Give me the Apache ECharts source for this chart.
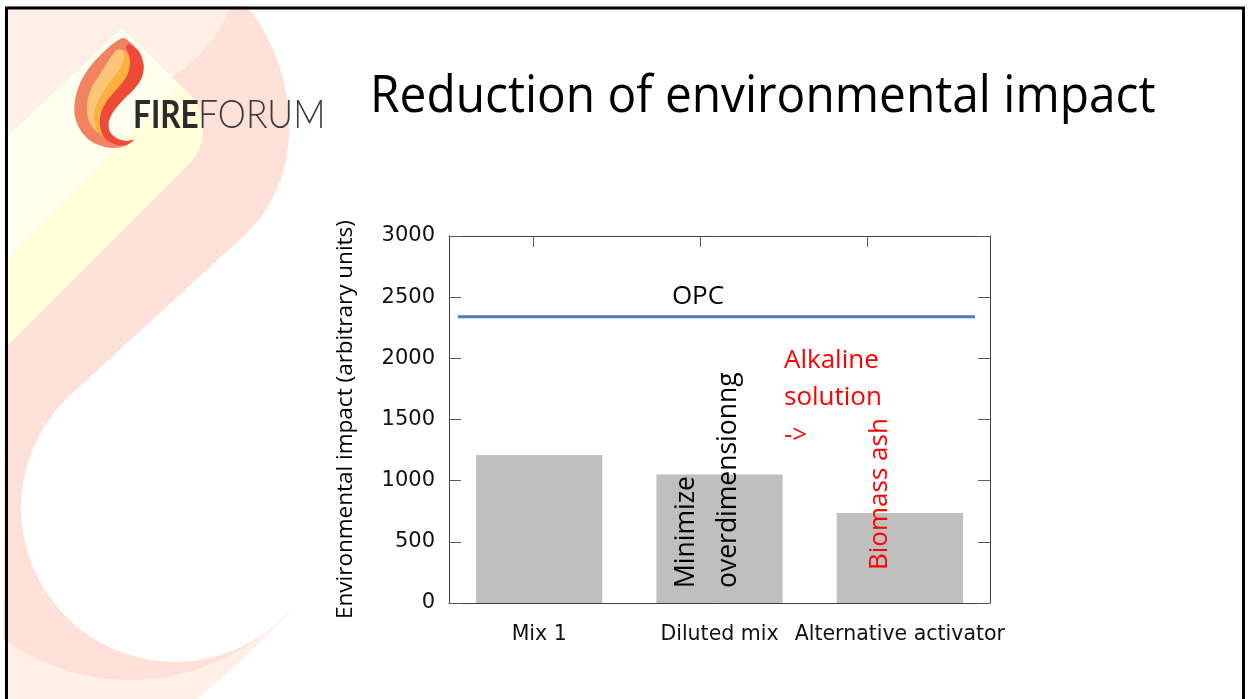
<!DOCTYPE html>
<html>
<head>
<meta charset="utf-8">
<script src="https://cdn.jsdelivr.net/npm/echarts@6/dist/echarts.min.js"></script>
<style>
  html, body { margin: 0; padding: 0; background: #fff; }
  #chart { width: 1249px; height: 699px; }
</style>
</head>
<body>
<div id="chart"></div>
<script>
// ---- chart data ----
const categories = ['Mix 1', 'Diluted mix', 'Alternative activator'];
const impactValues = [1210, 1050, 735];
const opcValue = 2340;
const opcLabel = 'OPC';
const yTicks = [0, 500, 1000, 1500, 2000, 2500, 3000];

// ---- slide texts ----
const slideTitle = 'Reduction of environmental impact';
const yAxisTitle = 'Environmental impact (arbitrary units)';
const noteDiluted = ['Minimize', 'overdimensionng'];
const noteActivator = ['Alkaline', 'solution', '->'];
const noteAsh = 'Biomass ash';

// ---- shape helpers for the slide decoration ----
function arcPts(cx, cy, r, a0, a1, n) {
  const pts = [];
  for (let i = 0; i <= n; i++) {
    const a = (a0 + (a1 - a0) * i / n) * Math.PI / 180;
    pts.push([cx + r * Math.cos(a), cy + r * Math.sin(a)]);
  }
  return pts;
}
function cubicPts(p0, p1, p2, p3, n) {
  const pts = [];
  for (let i = 0; i <= n; i++) {
    const t = i / n, u = 1 - t;
    pts.push([
      u*u*u*p0[0] + 3*u*u*t*p1[0] + 3*u*t*t*p2[0] + t*t*t*p3[0],
      u*u*u*p0[1] + 3*u*u*t*p1[1] + 3*u*t*t*p2[1] + t*t*t*p3[1]
    ]);
  }
  return pts;
}

const PEACH = 'rgb(254,240,230)';
const PINK = 'rgb(253,224,216)';
const PALE = 'rgb(255,255,240)';
const CREAM = 'rgb(255,255,218)';

const peachTop = [[6,6],[232,6],[205,60],[150,120],[6,262]];
const peachBottom = [[6,450],[290,612],[240,662],[190,705],[6,705]];
const pinkRibbon = [].concat(
  [[230,6]],
  cubicPts([246,6],[288,52],[317,163],[247,233], 24),
  [[66,399],[175,508]],
  arcPts(130, 464, 216, 45, 126, 40),
  [[6,300],[150,160]],
  cubicPts([172,78],[195,62],[222,35],[230,6], 12)
);
const creamBand = [].concat([[6,138],[122,28],[188,93]], arcPts(152,129,51,-45,45,16), [[6,347]]);
const creamDeep = [].concat([[6,259],[180,85],[188,93]], arcPts(152,129,51,-45,45,16), [[6,347]]);

// logo flame layers
const flameOuter = [[123,38],[131,43],[140,53],[143.5,65],[142,77],[135,88],[123,100],[113,112],[108.5,123],[110,132],[117,138.5],[127,141],[134,139.5],[128,144.5],[120,147.5],[107,147.5],[92,142],[81,131],[75,117],[75,100],[81,81],[93,63],[108,48]];
const flameLight = [[117,50],[124,51],[124,60],[119,71],[109,84],[100,98],[95,111],[95,124],[99,133],[93,128],[88,118],[87,104],[91,89],[100,74],[109,60]];
const flameAmber = [[124,51],[129,55],[130,64],[127,76],[117,89],[107,101],[101,113],[100,126],[104,137],[99,133],[95,124],[95,111],[100,98],[109,84],[119,71],[124,60]];
const flameRed = [[129,44],[139,52],[143.5,65],[142,77],[135,88],[123,100],[113,112],[108.5,123],[110,132],[117,138.5],[127,141],[134,139.5],[126,145],[114,144],[104,137],[100,126],[101,113],[107,101],[117,89],[127,76],[130,64],[129,55],[126,47]];

const poly = (pts, fill, z, smooth) => ({ type: 'polygon', z: z, silent: true, shape: { points: pts, smooth: smooth || 0 }, style: { fill: fill } });

const chart = echarts.init(document.getElementById('chart'), null, { renderer: 'canvas' });

const axisLineStyle = { color: '#404040', width: 1 };
const tickStyle = { color: '#5a5a5a', width: 1 };

chart.setOption({
  backgroundColor: '#ffffff',
  animation: false,
  grid: [
    { left: 449, top: 236, width: 541, height: 367 },
    { left: 458, top: 236, width: 517, height: 367 }
  ],
  xAxis: [
    {
      type: 'category', gridIndex: 0, position: 'bottom', data: categories,
      axisLine: { show: true, onZero: false, lineStyle: axisLineStyle },
      axisTick: { show: false },
      axisLabel: { interval: 0, margin: 21, fontSize: 20.5, fontFamily: 'DejaVu Sans', color: '#111' }
    },
    {
      type: 'value', gridIndex: 0, position: 'top', min: 0, max: 1,
      axisLine: { show: true, onZero: false, lineStyle: axisLineStyle },
      axisTick: { show: true, inside: true, length: 11, lineStyle: tickStyle, customValues: [0.155, 0.464, 0.774] },
      axisLabel: { show: false },
      splitLine: { show: false }
    },
    { type: 'value', gridIndex: 1, min: 0, max: 1, show: false }
  ],
  yAxis: [
    {
      type: 'value', gridIndex: 0, position: 'left',
      min: yTicks[0], max: yTicks[yTicks.length - 1], interval: yTicks[1] - yTicks[0],
      axisLine: { show: true, onZero: false, lineStyle: axisLineStyle },
      axisTick: { show: true, inside: true, length: 12, lineStyle: tickStyle },
      axisLabel: { margin: 14, fontSize: 21, fontFamily: 'DejaVu Sans', color: '#111', padding: [4, 0, 0, 0], formatter: v => String(v) },
      splitLine: { show: false },
      name: yAxisTitle, nameLocation: 'middle', nameGap: 92,
      nameTextStyle: { fontSize: 22.5, fontFamily: 'Open Sans', color: '#000' }
    },
    {
      type: 'value', gridIndex: 0, position: 'right',
      min: yTicks[0], max: yTicks[yTicks.length - 1], interval: yTicks[1] - yTicks[0],
      axisLine: { show: true, onZero: false, lineStyle: axisLineStyle },
      axisTick: { show: true, inside: true, length: 12, lineStyle: tickStyle },
      axisLabel: { show: false },
      splitLine: { show: false }
    },
    { type: 'value', gridIndex: 1, min: yTicks[0], max: yTicks[yTicks.length - 1], show: false }
  ],
  series: [
    {
      type: 'bar', xAxisIndex: 0, yAxisIndex: 0,
      data: impactValues, barWidth: '70%',
      itemStyle: { color: '#BFBFBF' }
    },
    {
      type: 'line', xAxisIndex: 2, yAxisIndex: 2,
      data: [[0, opcValue], [1, opcValue]],
      symbol: 'none',
      lineStyle: { color: '#4A7EBB', width: 3 }
    }
  ],
  graphic: [
    // background ribbons
    poly(peachTop, PEACH, -20),
    poly(peachBottom, PEACH, -20),
    poly(pinkRibbon, PINK, -19),
    poly(creamBand, PALE, -18),
    poly(creamDeep, CREAM, -17),
    { type: 'circle', z: -16, silent: true, shape: { cx: 175, cy: 508, r: 154 }, style: { fill: '#ffffff' } },
    // logo
    poly(flameOuter, 'rgb(243,131,96)', -10, 0.3),
    poly(flameLight, 'rgb(252,197,120)', -9, 0.3),
    poly(flameAmber, 'rgb(251,177,62)', -8, 0.3),
    poly(flameRed, 'rgb(239,74,56)', -7, 0.3),
    {
      type: 'text', z: -6, x: 133, y: 115, scaleX: 0.81, silent: true,
      style: { text: 'FIRE', fontFamily: 'Lato', fontWeight: 'bold', fontSize: 39, fill: '#2b2b2b', verticalAlign: 'middle' }
    },
    {
      type: 'text', z: -6, x: 198, y: 115, scaleX: 0.91, silent: true,
      style: { text: 'FORUM', fontFamily: 'Lato', fontWeight: 300, fontSize: 39, fill: '#3a3a3a', verticalAlign: 'middle' }
    },
    // slide title
    {
      type: 'text', z: 10, x: 370, y: 97, scaleX: 0.92, silent: true,
      style: { text: slideTitle, fontFamily: 'Open Sans', fontSize: 52, fill: '#000', verticalAlign: 'middle' }
    },
    // line label
    {
      type: 'text', z: 10, x: 698, y: 297, silent: true,
      style: { text: opcLabel, fontFamily: 'Open Sans', fontSize: 26, fill: '#000', align: 'center', verticalAlign: 'middle' }
    },
    // annotations
    {
      type: 'text', z: 10, x: 707, y: 588, rotation: Math.PI / 2, silent: true,
      style: { text: noteDiluted.join('\n'), fontFamily: 'Open Sans', fontSize: 26.5, lineHeight: 42, fill: '#000', align: 'left', verticalAlign: 'middle' }
    },
    {
      type: 'text', z: 10, x: 784, y: 398, silent: true,
      style: { text: noteActivator.join('\n'), fontFamily: 'Open Sans', fontSize: 26, lineHeight: 37.5, fill: '#FF0000', align: 'left', verticalAlign: 'middle' }
    },
    {
      type: 'text', z: 10, x: 880, y: 570, rotation: Math.PI / 2, silent: true,
      style: { text: noteAsh, fontFamily: 'Open Sans', fontSize: 26, fill: '#FF0000', align: 'left', verticalAlign: 'middle' }
    },
    // slide frame
    {
      type: 'rect', z: 20, silent: true,
      shape: { x: 6.5, y: 8, width: 1237, height: 720 },
      style: { fill: 'none', stroke: '#000', lineWidth: 3 }
    }
  ]
});
</script>
</body>
</html>
